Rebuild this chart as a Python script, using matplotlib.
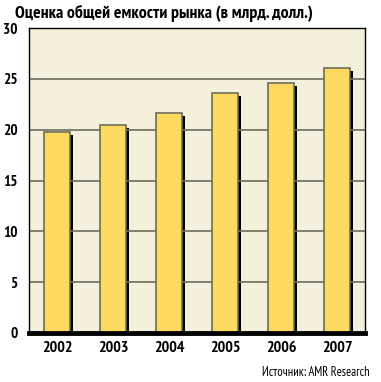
import matplotlib
matplotlib.use("Agg")
import matplotlib.pyplot as plt
from matplotlib.transforms import ScaledTranslation

years = ["2002", "2003", "2004", "2005", "2006", "2007"]
values = [19.8, 20.5, 21.6, 23.6, 24.6, 26.1]
yticks = [0, 5, 10, 15, 20, 25, 30]
title = "Оценка общей емкости рынка (в млрд. долл.)"
source = "Источник: AMR Research"

FONT = ["PT Sans Narrow", "DejaVu Sans"]
plt.rcParams["font.family"] = FONT

fig = plt.figure(figsize=(3.81, 3.82), dpi=100)
fig.patch.set_facecolor("white")
ax = fig.add_axes([29/381, 1-333/382, (365-29)/381, (333-28)/382])
ax.set_facecolor("#F5F0DC")

x = list(range(len(years)))
shadow = ax.transData + ScaledTranslation(3/100, -3/100, fig.dpi_scale_trans)
ax.bar(x, values, width=0.48, color="black", transform=shadow, zorder=2)
ax.bar(x, values, width=0.48, color="#FDDA5E", edgecolor="#6E6E5E", linewidth=1.2, zorder=3)

ax.set_xlim(-0.5, 5.5)
ax.set_ylim(0, 30)
ax.set_yticks(yticks)
ax.set_yticklabels([str(t) for t in yticks], fontsize=11, fontweight="bold")
ax.set_xticks(x)
ax.set_xticklabels(years, fontsize=11.5, fontweight="bold")
ax.tick_params(length=0)
ax.tick_params(axis="x", pad=6)
ax.tick_params(axis="y", pad=8)
ax.yaxis.grid(True, color="#6E6E5E", linewidth=1.2)
ax.set_axisbelow(False)
for g in ax.get_ygridlines():
    g.set_zorder(4)

for s in ["left", "right", "top"]:
    ax.spines[s].set_linewidth(1)
    ax.spines[s].set_color("black")
ax.spines["bottom"].set_linewidth(3.5)
ax.spines["bottom"].set_color("black")
for s in ax.spines.values():
    s.set_zorder(6)

fig.text(15/381, 1-13/382, title, fontsize=12.8, fontweight="bold", ha="left", va="center")
fig.text(370/381, 1-372/382, source, fontsize=9, ha="right", va="center")

fig.savefig("out.png", dpi=100, facecolor="white")
